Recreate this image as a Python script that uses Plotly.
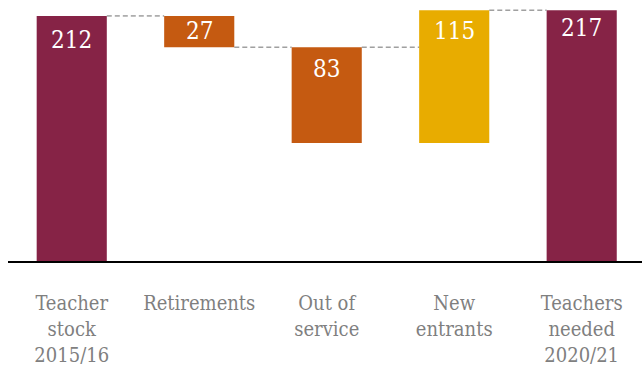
import plotly.graph_objects as go

# Teacher supply flow, 2015/16 -> 2020/21
categories = ["Teacher<br>stock<br>2015/16", "Retirements", "Out of<br>service",
              "New<br>entrants", "Teachers<br>needed<br>2020/21"]
changes = [212, -27, -83, 115, 217]
kinds = ["total", "relative", "relative", "relative", "total"]
colors = ["#862346", "#C55A11", "#C55A11", "#E8AC00", "#862346"]

SERIF = "DejaVu Serif Condensed, DejaVu Serif"

# Compute floating bar bases and heights from the flow values
bases, heights, running = [], [], 0
for v, k in zip(changes, kinds):
    if k == "total":
        bases.append(0)
        heights.append(v)
        running = v
    elif v < 0:
        bases.append(running + v)
        heights.append(-v)
        running += v
    else:
        bases.append(running)
        heights.append(v)
        running += v
labels = [str(abs(v)) for v in changes]
tops = [b + h for b, h in zip(bases, heights)]

fig = go.Figure()
fig.add_trace(go.Bar(
    x=list(range(len(categories))), y=heights, base=bases,
    marker=dict(color=colors, line=dict(width=0)),
    width=0.55, hoverinfo="skip",
))

# Value labels near the top of each bar
shifts = [-24, -15, -22, -21, -18]
for i, (lab, top) in enumerate(zip(labels, tops)):
    fig.add_annotation(x=i, y=top, text=lab, showarrow=False, yanchor="middle",
                       yshift=shifts[i],
                       font=dict(family=SERIF, size=24, color="white"))

# Dashed connectors between neighbouring bars
conn_levels = [212, 185, 185, 217]
for i, lvl in enumerate(conn_levels):
    fig.add_shape(type="line", xref="x", yref="y",
                  x0=i + 0.275, x1=i + 1 - 0.275, y0=lvl, y1=lvl,
                  line=dict(color="#6f6f6f", width=1, dash="5px,3px"))

fig.update_layout(
    width=642, height=371,
    margin=dict(l=8, r=0, t=0, b=110),
    paper_bgcolor="white", plot_bgcolor="white",
    showlegend=False,
    font=dict(family=SERIF),
)
fig.update_xaxes(
    tickmode="array", tickvals=list(range(len(categories))), ticktext=categories,
    range=[-0.5, 4.473],
    showline=True, linecolor="black", linewidth=2,
    showgrid=False, zeroline=False,
    ticks="outside", ticklen=23, tickcolor="rgba(0,0,0,0)",
    tickfont=dict(family=SERIF, size=20, color="#7f7f7f"),
)
fig.update_yaxes(range=[0, 225.8], visible=False, showgrid=False, zeroline=False)

fig.write_html("out.html")
